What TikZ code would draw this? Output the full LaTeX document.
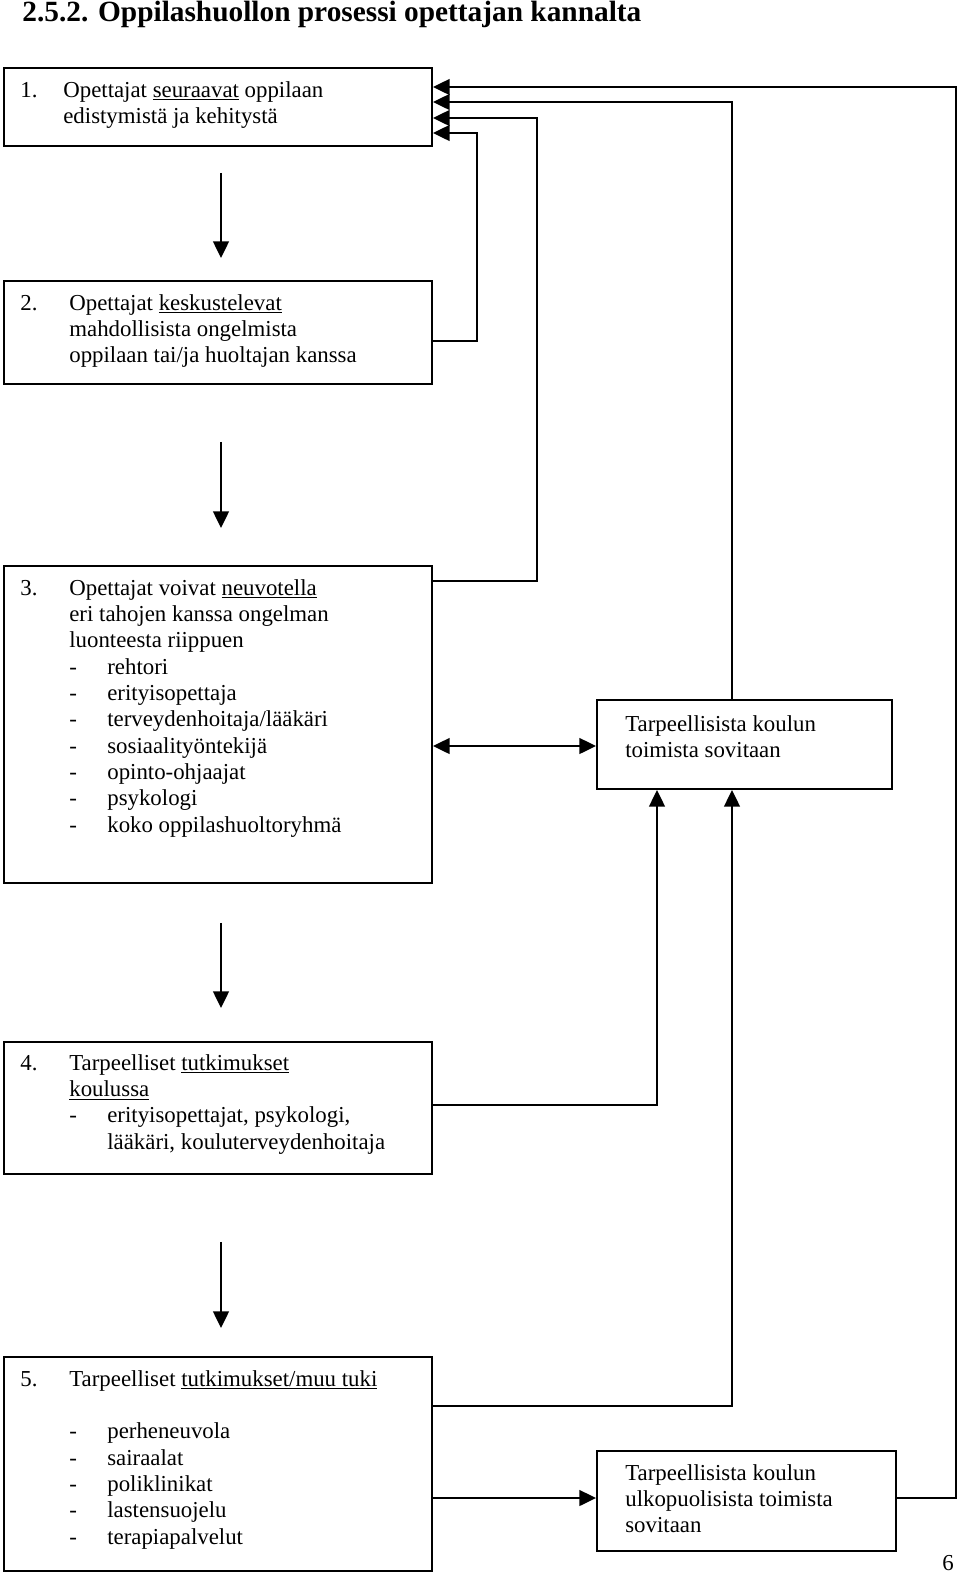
\documentclass[tikz,border=0pt]{standalone}
\usepackage{fontspec}
\setmainfont{Liberation Serif}
\usetikzlibrary{arrows.meta,calc,fit}
\newcommand\listdash{\makebox[0.76cm][l]{-}}
\newcommand\boxlines[1]{\begin{tabular}[t]{@{}l@{}}#1\end{tabular}}

\begin{document}
\begin{tikzpicture}[x=0.02cm,y=-0.02cm,
  box/.style={draw,line width=1.1pt,inner sep=0pt},
  txt/.style={anchor=base west,inner sep=0pt,font=\fontsize{13}{15}\selectfont},
  arr/.style={line width=1.1pt,-{Triangle[length=9.5pt,width=9pt]}},
  arrs/.style={line width=1.1pt,{Triangle[length=9.5pt,width=9pt]}-{Triangle[length=9.5pt,width=9pt]}}]
%define stuff
\def\numx{20}
\def\txtx{69}
%set bounding box
\useasboundingbox (0,0) rectangle (960,1576);
%title
\node[anchor=base west,inner sep=0pt,font=\fontsize{16.7}{18}\selectfont\bfseries] (title)
	at (22,21) {2.5.2. Oppilashuollon prosessi opettajan kannalta};
%Box 1
\node[box, fit={(4,68) (432,146)}] (b1) {};
\node[txt] (n1) at (\numx,97) {1.};
\node[txt] (t1) at (63,97) {\boxlines{Opettajat \underline{seuraavat} oppilaan\\edistymistä ja kehitystä}};
%Box 2
\node[box, fit={(4,281) (432,384)}] (b2) {};
\node[txt] (n2) at (\numx,310) {2.};
\node[txt] (t2) at (\txtx,310) {\boxlines{Opettajat \underline{keskustelevat}\\mahdollisista ongelmista\\oppilaan tai/ja huoltajan kanssa}};
%Box 3
\node[box, fit={(4,566) (432,883)}] (b3) {};
\node[txt] (n3) at (\numx,595) {3.};
\node[txt] (t3) at (\txtx,595) {\boxlines{Opettajat voivat \underline{neuvotella}\\eri tahojen kanssa ongelman\\luonteesta riippuen\\
	\listdash rehtori\\\listdash erityisopettaja\\\listdash terveydenhoitaja/lääkäri\\\listdash sosiaalityöntekijä\\
	\listdash opinto-ohjaajat\\\listdash psykologi\\\listdash koko oppilashuoltoryhmä}};
%Box 4
\node[box, fit={(4,1042) (432,1174)}] (b4) {};
\node[txt] (n4) at (\numx,1070) {4.};
\node[txt] (t4) at (\txtx,1070) {\boxlines{Tarpeelliset \underline{tutkimukset}\\\underline{koulussa}\\
	\listdash erityisopettajat, psykologi,\\\hspace*{0.76cm}lääkäri, kouluterveydenhoitaja}};
%Box 5
\node[box, fit={(4,1357) (432,1571)}] (b5) {};
\node[txt] (n5) at (\numx,1386) {5.};
\node[txt] (t5) at (\txtx,1386) {\boxlines{Tarpeelliset \underline{tutkimukset/muu tuki}\\[15pt]
	\listdash perheneuvola\\\listdash sairaalat\\\listdash poliklinikat\\\listdash lastensuojelu\\\listdash terapiapalvelut}};
%Right boxes
\node[box, fit={(597,700) (892,789)}] (bA) {};
\node[txt] (tA) at (625,731) {\boxlines{Tarpeellisista koulun\\toimista sovitaan}};
\node[box, fit={(597,1451) (896,1551)}] (bB) {};
\node[txt] (tB) at (625,1480) {\boxlines{Tarpeellisista koulun\\ulkopuolisista toimista\\sovitaan}};
%page number
\node[txt] (pnum) at (942,1570) {6};
%Down arrows
\draw[arr] ($(b1.south)+(3,26)$) -- ($(b2.north)+(3,-22)$);
\draw[arr] ($(b2.south)+(3,57)$) -- ($(b3.north)+(3,-37)$);
\draw[arr] ($(b3.south)+(3,39)$) -- ($(b4.north)+(3,-33)$);
\draw[arr] ($(b4.south)+(3,67)$) -- ($(b5.north)+(3,-28)$);
%Lines back to box 1
\coordinate (k2a) at (477,341);
\coordinate (k2b) at (477,133);
\draw[arr] (b2.east |- k2a) -- (k2a) -- (k2b) -- (b1.east |- k2b);
\coordinate (k3a) at (537,581);
\coordinate (k3b) at (537,118);
\draw[arr] (b3.east |- k3a) -- (k3a) -- (k3b) -- (b1.east |- k3b);
\coordinate (kAb) at (732,102);
\draw[arr] (bA.north -| kAb) -- (kAb) -- (b1.east |- kAb);
\coordinate (kBa) at (956,1498);
\coordinate (kBb) at (956,87);
\draw[arr] (bB.east |- kBa) -- (kBa) -- (kBb) -- (b1.east |- kBb);
%Box 3 and school actions
\coordinate (k3A) at (500,746);
\draw[arrs] (b3.east |- k3A) -- (bA.west |- k3A);
%Boxes 4 and 5 to the right boxes
\coordinate (k4) at (657,1105);
\draw[arr] (b4.east |- k4) -- (k4) -- (bA.south -| k4);
\coordinate (k5) at (732,1406);
\draw[arr] (b5.east |- k5) -- (k5) -- (bA.south -| k5);
\coordinate (k5B) at (500,1498);
\draw[arr] (b5.east |- k5B) -- (bB.west |- k5B);
\end{tikzpicture}
\end{document}
